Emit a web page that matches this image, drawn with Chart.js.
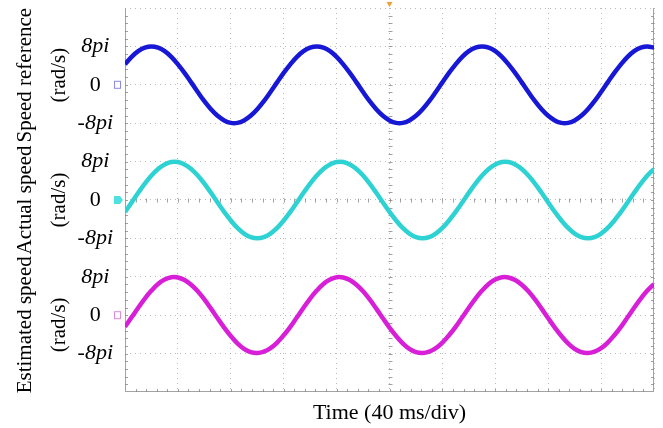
<!DOCTYPE html>
<html><head><meta charset="utf-8">
<script src="https://cdn.jsdelivr.net/npm/chart.js@4/dist/chart.umd.min.js"></script>
<style>html,body{margin:0;padding:0;background:#fff;overflow:hidden}</style>
</head><body>
<canvas id="c" width="663" height="428"></canvas>
<script>
// time axis (ms), sampled every 5 ms, 40 ms per division
const timeMs = [0,5,10,15,20,25,30,35,40,45,50,55,60,65,70,75,80,85,90,95,100,105,110,115,120,125,130,135,140,145,150,155,160,165,170,175,180,185,190,195,200,205,210,215,220,225,230,235,240,245,250,255,260,265,270,275,280,285,290,295,300,305,310,315,320,325,330,335,340,345,350,355,360,365,370,375,380,385,390,395,400];
const gridTimes = [0,40,80,120,160,200,240,280,320,360,400];
// speeds in rad/s (8pi = 25.13 rad/s)
const speedReference = [13.4,18.3,22.0,24.3,25.1,24.3,22.0,18.3,13.4,7.8,1.6,-4.7,-10.7,-16.0,-20.3,-23.3,-24.9,-24.9,-23.3,-20.3,-16.0,-10.7,-4.7,1.6,7.8,
13.4,18.3,22.0,24.3,25.1,24.3,22.0,18.3,13.4,7.8,1.6,-4.7,-10.7,-16.0,-20.3,-23.3,-24.9,-24.9,-23.3,-20.3,-16.0,-10.7,-4.7,1.6,7.8,
13.4,18.3,22.0,24.3,25.1,24.3,22.0,18.3,13.4,7.8,1.6,-4.7,-10.7,-16.0,-20.3,-23.3,-24.9,-24.9,-23.3,-20.3,-16.0,-10.7,-4.7,1.6,7.8,
13.4,18.3,22.0,24.3,25.1,24.3];
const actualSpeed = [-7.8,-1.6,4.7,10.7,16.0,20.3,23.3,24.9,24.9,23.3,20.3,16.0,10.7,4.7,-1.6,-7.8,-13.4,-18.3,-22.0,-24.3,-25.1,-24.3,-22.0,-18.3,-13.4,
-7.8,-1.6,4.7,10.7,16.0,20.3,23.3,24.9,24.9,23.3,20.3,16.0,10.7,4.7,-1.6,-7.8,-13.4,-18.3,-22.0,-24.3,-25.1,-24.3,-22.0,-18.3,-13.4,
-7.8,-1.6,4.7,10.7,16.0,20.3,23.3,24.9,24.9,23.3,20.3,16.0,10.7,4.7,-1.6,-7.8,-13.4,-18.3,-22.0,-24.3,-25.1,-24.3,-22.0,-18.3,-13.4,
-7.8,-1.6,4.7,10.7,16.0,20.3];
const estimatedSpeed = [-7.6,-1.4,4.9,10.9,16.1,20.4,23.3,24.8,24.7,23.0,19.9,15.6,10.3,4.3,-2.0,-8.1,-13.6,-18.4,-22.0,-24.2,-24.8,-23.9,-21.6,-17.9,-13.1,
-7.6,-1.4,4.9,10.9,16.1,20.4,23.3,24.8,24.7,23.0,19.9,15.6,10.3,4.3,-2.0,-8.1,-13.6,-18.4,-22.0,-24.2,-24.8,-23.9,-21.6,-17.9,-13.1,
-7.6,-1.4,4.9,10.9,16.1,20.4,23.3,24.8,24.7,23.0,19.9,15.6,10.3,4.3,-2.0,-8.1,-13.6,-18.4,-22.0,-24.2,-24.8,-23.9,-21.6,-17.9,-13.1,
-7.6,-1.4,4.9,10.9,16.1,20.4];
const tickValues = [-8*Math.PI, 0, 8*Math.PI];
const tickLabels = ['-8pi', '0', '8pi'];
const channelTitles = [['Speed reference','(rad/s)'], ['Actual speed','(rad/s)'], ['Estimated speed','(rad/s)']];
const xTitle = 'Time (40 ms/div)';
const colors = ['#1717d6', '#2fd2d2', '#d81fd8'];

const FONT = "'Liberation Serif', 'Times New Roman', serif";
const GRID = 'rgba(140,140,140,0.6)';

function labelFor(v){
  for (let i=0;i<tickValues.length;i++) if (Math.abs(tickValues[i]-v) < 1e-6) return tickLabels[i];
  return '';
}

function yAxis(title, min, max, gridVals, stackWeight, weight){
  return {
    type:'linear', position:'left', stack:'scope', stackWeight, weight, min, max,
    afterBuildTicks: ax => { ax.ticks = gridVals.map(v => ({value:v})); },
    afterFit: ax => { ax.width = 125; ax.paddingTop = 0; ax.paddingBottom = 0; },
    ticks:{
      autoSkip:false, padding:12, crossAlign:'center', color:'#000',
      font: c => ({family:FONT, size:22, style: (c.tick && c.tick.value === 0) ? 'normal' : 'italic'}),
      callback: v => labelFor(v)
    },
    grid:{color:GRID, lineWidth:1, drawTicks:false},
    border:{display:false, dash:[1,4]},
    title:{display:true, text:title, color:'#000', font:{family:FONT, size:21, lineHeight:1.65}, padding:{top:8,bottom:0}}
  };
}

const P = Math.PI;
const scopeDecor = {
  id:'scopeDecor',
  beforeDatasetsDraw(chart){
    const {ctx, chartArea:a, scales} = chart;
    ctx.save();
    ctx.strokeStyle = '#a3a3a3'; ctx.lineWidth = 1;
    ctx.beginPath();
    ctx.moveTo(a.left+0.5, a.top); ctx.lineTo(a.left+0.5, a.bottom);
    ctx.moveTo(a.right-0.5, a.top); ctx.lineTo(a.right-0.5, a.bottom);
    ctx.moveTo(a.left, a.bottom-0.5); ctx.lineTo(a.right, a.bottom-0.5);
    ctx.stroke();
    const cx = Math.round(scales.x.getPixelForValue(200))+0.5;
    const cy = Math.round(scales.yC.getPixelForValue(0))+0.5;
    const dx = (a.right-a.left)/50, dy = (a.bottom-a.top)/50;
    ctx.strokeStyle = 'rgba(130,130,130,0.75)';
    ctx.beginPath();
    for (let i=1;i<50;i++){
      const x = Math.round(a.left + i*dx)+0.5, y = Math.round(a.top + i*dy)+0.5;
      ctx.moveTo(x, cy-2); ctx.lineTo(x, cy+2);
      ctx.moveTo(cx-2, y); ctx.lineTo(cx+2, y);
      ctx.moveTo(a.left, y); ctx.lineTo(a.left+3, y);
      ctx.moveTo(a.right, y); ctx.lineTo(a.right-3, y);
      ctx.moveTo(x, a.bottom); ctx.lineTo(x, a.bottom-3);
    }
    ctx.stroke();
    ctx.restore();
  },
  afterDraw(chart){
    const {ctx, chartArea:a, scales} = chart;
    ctx.save();
    const mx = a.left - 8;
    let y = scales.yB.getPixelForValue(0);
    ctx.strokeStyle = '#8a8ae6'; ctx.lineWidth = 1;
    ctx.strokeRect(mx-2.5, y-3.5, 6, 7);
    y = scales.yC.getPixelForValue(0);
    ctx.fillStyle = '#4fe0e0';
    ctx.beginPath(); ctx.moveTo(mx-3, y-4); ctx.lineTo(mx+3, y-4); ctx.lineTo(mx+6, y); ctx.lineTo(mx+3, y+4); ctx.lineTo(mx-3, y+4); ctx.closePath(); ctx.fill();
    y = scales.yM.getPixelForValue(0);
    ctx.strokeStyle = '#e08ae0';
    ctx.strokeRect(mx-2.5, y-3.5, 6, 7);
    const tx = scales.x.getPixelForValue(200);
    ctx.fillStyle = '#f0a030';
    ctx.beginPath(); ctx.moveTo(tx-3, a.top-6); ctx.lineTo(tx+3, a.top-6); ctx.lineTo(tx, a.top-1); ctx.closePath(); ctx.fill();
    ctx.restore();
  }
};

const mk = (arr) => timeMs.map((t,i) => ({x:t, y:arr[i]}));
const ds = (label, arr, color, yAxisID) => ({
  label, data: mk(arr), yAxisID, borderColor: color, backgroundColor: color,
  borderWidth: 4.5, pointRadius: 0, tension: 0.4, fill: false
});

new Chart(document.getElementById('c'), {
  type:'line',
  data:{ datasets:[
    ds(channelTitles[0][0], speedReference, colors[0], 'yB'),
    ds(channelTitles[1][0], actualSpeed, colors[1], 'yC'),
    ds(channelTitles[2][0], estimatedSpeed, colors[2], 'yM')
  ]},
  options:{
    responsive:false, animation:false, devicePixelRatio:1,
    layout:{padding:{top:8, right:9, left:0, bottom:0}},
    plugins:{legend:{display:false}, tooltip:{enabled:false}},
    scales:{
      x:{
        type:'linear', min:0, max:400,
        afterBuildTicks: ax => { ax.ticks = gridTimes.map(v => ({value:v})); },
        afterFit: ax => { ax.height = 36; ax.paddingLeft = 0; ax.paddingRight = 0; },
        ticks:{display:false},
        grid:{color:GRID, lineWidth:1, drawTicks:false},
        border:{display:false, dash:[1,4]},
        title:{display:true, text:xTitle, color:'#000', font:{family:FONT, size:22, lineHeight:1.2}, padding:{top:0,bottom:2}}
      },
      yB: yAxis(channelTitles[0], -12*P, 16*P, [-8*P, 0, 8*P, 16*P], 3.5, 3),
      yC: yAxis(channelTitles[1], -12*P, 12*P, [-8*P, 0, 8*P], 3, 2),
      yM: yAxis(channelTitles[2], -16*P, 12*P, [-16*P, -8*P, 0, 8*P], 3.5, 1)
    }
  },
  plugins:[scopeDecor]
});
</script>
</body></html>
